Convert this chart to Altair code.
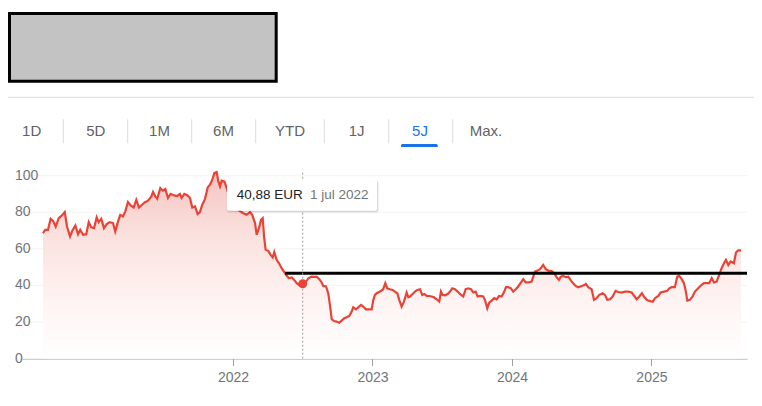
import altair as alt
import pandas as pd

# ---------------- data ----------------
years = [
    2020.638, 2020.654, 2020.674, 2020.693, 2020.710, 2020.729, 2020.751, 2020.774, 2020.794, 2020.810,
    2020.832, 2020.848, 2020.870, 2020.889, 2020.905, 2020.925, 2020.948, 2020.966, 2020.984, 2021.004,
    2021.023, 2021.037, 2021.056, 2021.075, 2021.095, 2021.116, 2021.140, 2021.156, 2021.176, 2021.192,
    2021.211, 2021.228, 2021.247, 2021.267, 2021.288, 2021.307, 2021.326, 2021.348, 2021.367, 2021.391,
    2021.414, 2021.427, 2021.443, 2021.457, 2021.479, 2021.498, 2021.515, 2021.534, 2021.553, 2021.577,
    2021.601,
    2021.620, 2021.632, 2021.651, 2021.675, 2021.692, 2021.708, 2021.728, 2021.747, 2021.763, 2021.780,
    2021.799, 2021.819, 2021.835, 2021.852, 2021.866, 2021.883, 2021.895, 2021.907, 2021.919, 2021.938,
    2021.955, 2021.966, 2021.986, 2022.014, 2022.043, 2022.074, 2022.098, 2022.122, 2022.138, 2022.158,
    2022.170, 2022.186, 2022.201, 2022.213, 2022.224, 2022.234, 2022.253, 2022.270, 2022.285, 2022.296,
    2022.313, 2022.330, 2022.349, 2022.368, 2022.385, 2022.401, 2022.421, 2022.439, 2022.457, 2022.480,
    2022.500, 2022.521, 2022.540, 2022.564, 2022.588,
    2022.600, 2022.619, 2022.636, 2022.647, 2022.667, 2022.683, 2022.695, 2022.708, 2022.724, 2022.743,
    2022.762, 2022.779, 2022.798, 2022.815, 2022.834, 2022.851, 2022.862, 2022.882, 2022.898, 2022.918,
    2022.934, 2022.953, 2022.970, 2022.994, 2023.006, 2023.018, 2023.030, 2023.054, 2023.077, 2023.092,
    2023.106, 2023.125, 2023.145, 2023.161, 2023.178, 2023.192, 2023.209, 2023.226, 2023.245, 2023.257,
    2023.269, 2023.288, 2023.305, 2023.321, 2023.341, 2023.357, 2023.371, 2023.389, 2023.407, 2023.424,
    2023.441, 2023.460, 2023.479, 2023.491, 2023.503, 2023.520,
    2023.539, 2023.556, 2023.572, 2023.591, 2023.611, 2023.627, 2023.651, 2023.668, 2023.687, 2023.706,
    2023.723, 2023.740, 2023.754, 2023.771, 2023.794, 2023.806, 2023.823, 2023.837, 2023.855, 2023.873,
    2023.890, 2023.907, 2023.926, 2023.945, 2023.957, 2023.974, 2023.993, 2024.009, 2024.027, 2024.045,
    2024.065, 2024.081, 2024.098, 2024.117, 2024.141, 2024.153, 2024.165, 2024.184, 2024.201, 2024.224,
    2024.242, 2024.260, 2024.285, 2024.303, 2024.320, 2024.337, 2024.351, 2024.368, 2024.385, 2024.404,
    2024.423, 2024.439, 2024.457, 2024.475, 2024.500, 2024.523,
    2024.530, 2024.547, 2024.571, 2024.588, 2024.607, 2024.626, 2024.650, 2024.667, 2024.683, 2024.703,
    2024.722, 2024.743, 2024.762, 2024.786, 2024.810, 2024.834, 2024.858, 2024.877, 2024.894, 2024.913,
    2024.932, 2024.946, 2024.966, 2024.984, 2025.009, 2025.025, 2025.049, 2025.066, 2025.090, 2025.113,
    2025.128, 2025.145, 2025.168, 2025.185, 2025.199, 2025.217, 2025.233, 2025.247, 2025.257, 2025.276,
    2025.295, 2025.312, 2025.335, 2025.360, 2025.376, 2025.396, 2025.414, 2025.432, 2025.448, 2025.467,
    2025.486, 2025.503, 2025.520, 2025.534, 2025.551, 2025.568, 2025.582, 2025.591, 2025.606, 2025.622,
    2025.642,
]
prices = [
    68.6, 70.4, 70.4, 76.4, 75.3, 72.2, 76.8, 78.3, 80.1, 72.2,
    66.8, 69.9, 72.8, 68.0, 70.4, 67.7, 68.0, 74.6, 71.7, 71.3,
    77.2, 74.6, 76.4, 71.3, 73.5, 74.6, 74.1, 69.5, 75.0, 78.6,
    77.7, 80.5, 85.6, 83.7, 82.6, 86.8, 82.6, 84.1, 85.4, 86.3,
    88.5, 91.1, 88.7, 87.4, 93.2, 91.8, 92.7, 87.8, 90.0, 89.2,
    88.9,
    90.0, 87.8, 90.0, 89.2, 87.8, 82.6, 83.2, 79.0, 80.1, 84.1,
    87.2, 93.6, 95.1, 97.8, 101.5, 102.0, 96.9, 94.2, 97.3, 96.9,
    93.2, 90.5, 86.0, 83.0, 81.0, 79.5, 78.6, 80.1, 78.6, 74.1,
    67.7, 71.3, 75.9, 76.8, 65.8, 59.5, 58.9, 56.7, 55.3, 58.2,
    54.0, 52.1, 49.4, 47.2, 45.2, 43.9, 44.3, 43.0, 41.2, 39.9,
    40.88, 41.7, 43.9, 44.8, 44.7,
    44.8, 43.4, 41.6, 39.7, 39.4, 35.7, 29.3, 21.5, 20.5, 20.2,
    19.6, 20.7, 22.0, 22.6, 23.3, 25.7, 28.0, 26.9, 28.0, 29.3,
    28.4, 26.9, 26.9, 26.9, 32.1, 34.8, 35.7, 36.6, 37.9, 41.2,
    38.4, 37.9, 37.5, 36.6, 35.7, 32.1, 28.4, 31.1, 36.1, 33.5,
    33.9, 35.3, 36.6, 37.5, 37.9, 34.8, 35.3, 34.2, 34.2, 33.9,
    33.5, 32.4, 31.1, 36.6, 34.8, 34.6,
    35.3, 36.6, 38.4, 37.9, 36.6, 35.3, 33.9, 37.9, 38.4, 37.9,
    36.1, 36.6, 33.9, 34.2, 33.9, 32.1, 27.5, 30.6, 31.7, 33.0,
    32.4, 34.2, 33.9, 36.6, 39.0, 39.0, 38.4, 36.6, 37.9, 39.4,
    41.6, 43.4, 41.6, 41.6, 42.1, 44.8, 47.6, 48.1, 48.9, 51.2,
    48.9, 48.1, 47.9, 46.7, 44.5, 43.0, 44.8, 45.2, 44.5, 44.8,
    42.6, 41.2, 39.7, 39.0, 39.7, 40.3,
    40.8, 39.0, 37.9, 32.1, 33.0, 34.8, 35.7, 34.8, 32.1, 32.4,
    33.9, 37.0, 36.4, 36.1, 36.6, 36.6, 36.1, 34.2, 32.4, 33.9,
    35.7, 33.9, 32.1, 31.5, 31.0, 33.0, 34.2, 36.1, 36.6, 37.0,
    38.4, 39.0, 39.0, 44.8, 45.2, 43.4, 41.2, 36.6, 31.7, 32.1,
    33.9, 36.6, 38.4, 40.3, 41.2, 41.2, 41.2, 43.9, 41.6, 42.1,
    45.8, 49.4, 52.1, 54.0, 51.2, 53.1, 52.5, 52.1, 58.0, 59.1,
    59.1,
]

tip_year = [2022.5]
tip_price = [40.88]
tip_date = ["1 jul 2022"]
currency = "EUR"

ref_level = [46.7]
ref_start = [2022.373]

x_domain = [2020.4875, 2025.685]
x_ticks = [2022, 2023, 2024, 2025]
y_ticks = [0, 20, 40, 60, 80, 100]

tab_labels = ["1D", "5D", "1M", "6M", "YTD", "1J", "5J", "Max."]
active_tab = "5J"

# ---------------- layout / style ----------------
FONT = "Liberation Sans, Arial, sans-serif"
W, H = 725, 182.8
RED = "#ea4335"
GREY_TXT = "#70757a"
tab_centers = [9.7, 73.8, 137.5, 201.5, 268, 334.7, 398, 464]
sep_x = [41.3, 105.7, 169.7, 233.7, 302.3, 366.7, 430.7]

df = pd.DataFrame({"year": years, "price": prices})
xscale = alt.Scale(domain=x_domain, nice=False, zero=False)
yscale = alt.Scale(domain=[0, 100], nice=False, zero=True)

X = alt.X(
    "year:Q", scale=xscale,
    axis=alt.Axis(values=x_ticks, format="d", title=None, grid=False,
                  domainColor="#9aa0a6", tickColor="#9aa0a6", tickSize=7,
                  labelColor=GREY_TXT, labelFontSize=14, labelPadding=5,
                  labelFont=FONT, labelOverlap=False),
)
Y = alt.Y("price:Q", scale=yscale, axis=None)

grad = alt.Gradient(
    gradient="linear",
    stops=[
        alt.GradientStop(color="#f4c4c0", offset=0),
        alt.GradientStop(color="#fbe2df", offset=0.35),
        alt.GradientStop(color="#fef4f3", offset=0.7),
        alt.GradientStop(color="#ffffff", offset=1),
    ],
    x1=1, x2=1, y1=0, y2=1,
)

ytick_df = pd.DataFrame({"v": y_ticks})
grid = alt.Chart(ytick_df).mark_rule(color="#f1f3f4", strokeWidth=1).encode(
    y=alt.Y("v:Q", scale=yscale, axis=None), x=alt.value(0), x2=alt.value(W))
ylabels = alt.Chart(ytick_df).mark_text(align="left", baseline="middle", font=FONT,
                                        fontSize=14, color=GREY_TXT).encode(
    y=alt.Y("v:Q", scale=yscale, axis=None), x=alt.value(-7), text="v:Q")

area = alt.Chart(df).mark_area(color=grad, opacity=1).encode(X, Y)
line = alt.Chart(df).mark_line(color=RED, strokeWidth=2.2).encode(
    x="year:Q", y=alt.Y("price:Q", axis=None))

ref_df = pd.DataFrame({"x": ref_start, "x2": [x_domain[1]], "y": ref_level})
ref = alt.Chart(ref_df).mark_rule(color="black", strokeWidth=3).encode(
    x="x:Q", x2="x2:Q", y=alt.Y("y:Q", axis=None))

tip_df = pd.DataFrame({
    "year": tip_year, "price": tip_price, "date": tip_date,
    "label": [f"{p:.2f}".replace(".", ",") + " " + currency for p in tip_price],
})
vrule = alt.Chart(tip_df).mark_rule(color="#9aa0a6", strokeDash=[2, 2], strokeWidth=1).encode(
    x="year:Q", y=alt.value(-3), y2=alt.value(H))
dot = alt.Chart(tip_df).mark_circle(color=RED, size=80, opacity=1).encode(
    x="year:Q", y=alt.Y("price:Q", axis=None))

one = pd.DataFrame({"a": [0]})
shadow2 = alt.Chart(one).mark_rect(color="#000000", opacity=0.05, cornerRadius=3).encode(
    x=alt.value(204.5), x2=alt.value(357), y=alt.value(4.8), y2=alt.value(37.5))
shadow1 = alt.Chart(one).mark_rect(color="#000000", opacity=0.10, cornerRadius=2).encode(
    x=alt.value(205.5), x2=alt.value(356), y=alt.value(5.3), y2=alt.value(36.3))
tipbox = alt.Chart(one).mark_rect(color="#ffffff", opacity=1, cornerRadius=2).encode(
    x=alt.value(205), x2=alt.value(355), y=alt.value(4.3), y2=alt.value(35))
tip_val = alt.Chart(tip_df).mark_text(align="left", baseline="middle", font=FONT,
                                      fontSize=13.5, color="#202124").encode(
    x=alt.value(214.7), y=alt.value(19.6), text="label:N")
tip_dt = alt.Chart(tip_df).mark_text(align="left", baseline="middle", font=FONT,
                                     fontSize=13.5, color=GREY_TXT).encode(
    x=alt.value(288), y=alt.value(19.6), text="date:N")

# ---------------- header ----------------
redact = alt.Chart(one).mark_rect(fill="#c3c3c3", stroke="#000000", strokeWidth=3).encode(
    x=alt.value(-12.5), x2=alt.value(254.2), y=alt.value(-162.2), y2=alt.value(-94.5))
hsep = alt.Chart(one).mark_rule(color="#dadce0", strokeWidth=1).encode(
    x=alt.value(-14), x2=alt.value(W + 7), y=alt.value(-78.4))

tabs_df = pd.DataFrame({
    "label": tab_labels,
    "x": tab_centers,
    "col": ["#1a73e8" if t == active_tab else "#5f6368" for t in tab_labels],
})
tabs = alt.Chart(tabs_df).mark_text(font=FONT, fontSize=15, align="center", baseline="middle").encode(
    x=alt.X("x:Q", scale=None), y=alt.value(-45), text="label:N",
    color=alt.Color("col:N", scale=None))
seps = alt.Chart(pd.DataFrame({"x": sep_x})).mark_rule(color="#dadce0", strokeWidth=1).encode(
    x=alt.X("x:Q", scale=None), y=alt.value(-56.4), y2=alt.value(-32.4))
ul_x = tab_centers[tab_labels.index(active_tab)]
underline = alt.Chart(one).mark_rect(color="#1a73e8", cornerRadiusTopLeft=3,
                                     cornerRadiusTopRight=3).encode(
    x=alt.value(ul_x - 19), x2=alt.value(ul_x + 17.7), y=alt.value(-31.7), y2=alt.value(-28.7))

chart = alt.layer(
    grid, area, ylabels, line, ref, vrule, dot, shadow2, shadow1, tipbox, tip_val, tip_dt,
    redact, hsep, tabs, seps, underline,
).properties(
    width=W, height=H,
    padding={"left": 14, "top": 167.7, "right": 7, "bottom": 38},
    autosize=alt.AutoSizeParams(type="none"),
    background="#ffffff",
).configure(
    font=FONT,
    view=alt.ViewConfig(stroke="transparent", strokeWidth=0),
)

chart.save("out.html", embed_options={"renderer": "svg", "actions": False})
